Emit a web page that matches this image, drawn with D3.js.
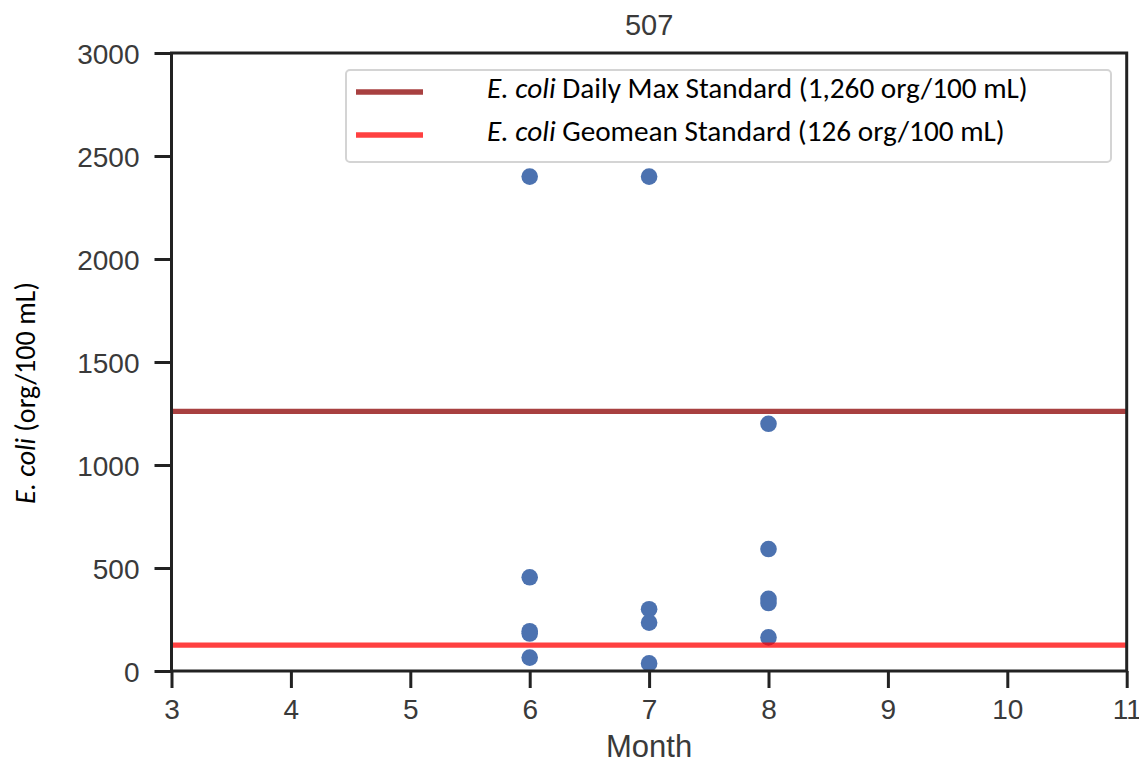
<!DOCTYPE html>
<html>
<head>
<meta charset="utf-8">
<script src="https://cdn.jsdelivr.net/npm/d3@7"></script>
<style>
  html, body { margin: 0; padding: 0; background: #fff; }
  svg { display: block; }
</style>
</head>
<body>
<svg id="chart" width="1139" height="764"></svg>
<script>
// Site 507 E. coli samples by month
const months  = [6, 6, 6, 6, 6, 7, 7, 7, 7, 8, 8, 8, 8, 8];
const ecoli   = [2400, 455, 193, 182, 65, 2400, 300, 235, 37, 1200, 592, 350, 330, 163];
const xTicks  = [3, 4, 5, 6, 7, 8, 9, 10, 11];
const yTicks  = [0, 500, 1000, 1500, 2000, 2500, 3000];
const standardNames  = ["Daily Max Standard (1,260 org/100 mL)", "Geomean Standard (126 org/100 mL)"];
const standardValues = [1260, 126];
const standardColors = ["darkred", "red"];

const W = 1139, H = 764;
const margin = { top: 53, right: 12.3, bottom: 93, left: 171.5 };
const svg = d3.select("#chart");

const x = d3.scaleLinear().domain([3, 11]).range([margin.left, W - margin.right]);
const y = d3.scaleLinear().domain([0, 3000]).range([H - margin.bottom, margin.top]);

const tickFont = "'Liberation Sans', Arial, sans-serif";
const calibriLike = "Carlito, Calibri, Lato, sans-serif";
const ink = "#222";

// data points
svg.append("g").selectAll("circle")
  .data(months.map((m, i) => ({ m, v: ecoli[i] })))
  .join("circle")
  .attr("cx", d => x(d.m))
  .attr("cy", d => y(d.v))
  .attr("r", 8.3)
  .attr("fill", "#4c72b0");

// standard lines
svg.append("g").selectAll("line")
  .data(standardValues)
  .join("line")
  .attr("x1", x(3)).attr("x2", x(11))
  .attr("y1", d => y(d)).attr("y2", d => y(d))
  .attr("stroke", (d, i) => standardColors[i])
  .attr("stroke-opacity", 0.75)
  .attr("stroke-width", 5.3);

// axes
const xAxis = svg.append("g")
  .attr("transform", `translate(0,${H - margin.bottom})`)
  .call(d3.axisBottom(x).tickValues(xTicks).tickFormat(d3.format("d")).tickSizeInner(17).tickSizeOuter(0).tickPadding(11));
const yAxis = svg.append("g")
  .attr("transform", `translate(${margin.left},0)`)
  .call(d3.axisLeft(y).tickValues(yTicks).tickFormat(d3.format("d")).tickSizeInner(17).tickSizeOuter(0).tickPadding(15));

[xAxis, yAxis].forEach(g => {
  g.select(".domain").remove();
  g.selectAll(".tick line").attr("stroke", ink).attr("stroke-width", 3);
  g.selectAll(".tick text")
    .attr("font-family", tickFont)
    .attr("font-size", 28)
    .attr("fill", "#3a3a3a");
});
yAxis.selectAll(".tick text").attr("dy", "0.36em");
xAxis.selectAll(".tick text").attr("dy", "0.7em");

// frame
svg.append("rect")
  .attr("x", x(3)).attr("y", y(3000))
  .attr("width", x(11) - x(3)).attr("height", y(0) - y(3000))
  .attr("fill", "none").attr("stroke", ink).attr("stroke-width", 3);

// title and axis labels
svg.append("text")
  .attr("x", (x(3) + x(11)) / 2).attr("y", 35)
  .attr("text-anchor", "middle")
  .attr("font-family", tickFont).attr("font-size", 29).attr("fill", "#3a3a3a")
  .text("507");

svg.append("text")
  .attr("x", (x(3) + x(11)) / 2).attr("y", 757)
  .attr("text-anchor", "middle")
  .attr("font-family", tickFont).attr("font-size", 31).attr("fill", "#3a3a3a")
  .text("Month");

function fitWidth(sel, target) {
  const w = sel.node().getComputedTextLength();
  const fs = parseFloat(sel.attr("font-size"));
  sel.attr("font-size", fs * target / w);
}

const yLabel = svg.append("text")
  .attr("transform", "translate(35,393) rotate(-90)")
  .attr("text-anchor", "middle")
  .attr("font-family", calibriLike).attr("font-size", 24).attr("fill", "#000");
yLabel.append("tspan").attr("font-style", "italic").text("E. coli");
yLabel.append("tspan").text(" (org/100 mL)");
fitWidth(yLabel, 222);

// legend
const legend = svg.append("g");
legend.append("rect")
  .attr("x", 346).attr("y", 70).attr("width", 765).attr("height", 92)
  .attr("rx", 4)
  .attr("fill", "#fff").attr("fill-opacity", 0.85)
  .attr("stroke", "#d4d4d4").attr("stroke-width", 2);

const rowY = [92, 135];
standardNames.forEach((name, i) => {
  legend.append("line")
    .attr("x1", 356).attr("x2", 423)
    .attr("y1", rowY[i]).attr("y2", rowY[i])
    .attr("stroke", standardColors[i]).attr("stroke-opacity", 0.75)
    .attr("stroke-width", 5.3);
  const t = legend.append("text")
    .attr("x", 487).attr("y", rowY[i] + 6)
    .attr("font-family", calibriLike).attr("font-size", 22).attr("fill", "#000");
  t.append("tspan").attr("font-style", "italic").text("E. coli");
  t.append("tspan").text(" " + name);
  if (i === 0) fitWidth(t, 541);
  else t.attr("font-size", legend.select("text").attr("font-size"));
});
</script>
</body>
</html>
